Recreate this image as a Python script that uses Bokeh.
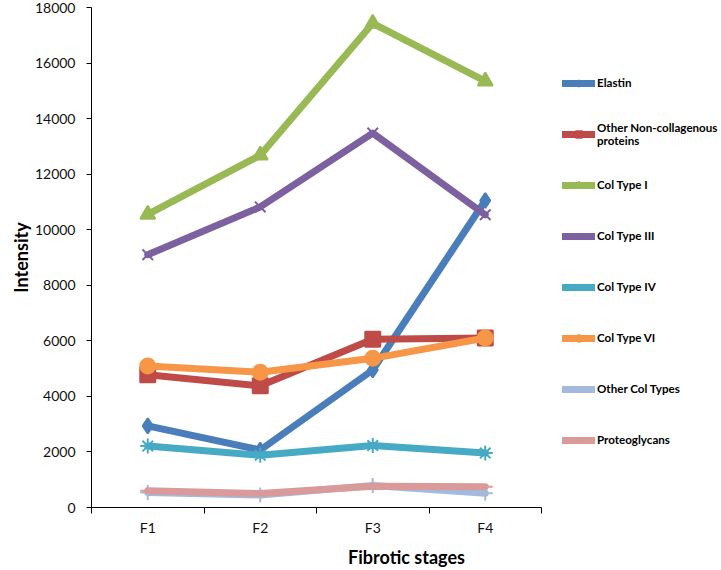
from bokeh.plotting import figure
from bokeh.models import Legend, LegendItem, FixedTicker, Range1d
from bokeh.embed import file_html
from bokeh.resources import INLINE

stages = ["F1", "F2", "F3", "F4"]
y_ticks = [0, 2000, 4000, 6000, 8000, 10000, 12000, 14000, 16000, 18000]

elastin = [2940, 2070, 4950, 11050]
other_noncollagenous = [4780, 4380, 6060, 6100]
col_type_1 = [10550, 12680, 17430, 15350]
col_type_3 = [9100, 10820, 13480, 10540]
col_type_4 = [2210, 1880, 2230, 1960]
col_type_6 = [5090, 4870, 5370, 6100]
other_col_types = [540, 450, 790, 510]
proteoglycans = [600, 500, 765, 745]

series_names = ["Elastin", "Other Non-collagenous\nproteins", "Col Type I", "Col Type III",
                "Col Type IV", "Col Type VI", "Other Col Types", "Proteoglycans"]
series_values = [elastin, other_noncollagenous, col_type_1, col_type_3,
                 col_type_4, col_type_6, other_col_types, proteoglycans]
colors = ["#4A7EBB", "#BE4B48", "#98B954", "#7D60A0", "#46AAC5", "#F79646", "#A3B9DD", "#D99A99"]
markers = ["diamond", "square", "triangle", "x", "asterisk", "circle", "cross", "dash"]

xs = [i + 1 for i in range(len(stages))]

# frame extends under the legend; the x axis is bounded to the category span
p = figure(width=721, height=570, output_backend="svg", toolbar_location=None,
           x_range=Range1d(0.5, 6.1), y_range=Range1d(0, 18000),
           min_border_left=91, min_border_right=0, min_border_top=7, min_border_bottom=61)
p.outline_line_color = None
p.xgrid.visible = False
p.ygrid.visible = False
p.background_fill_color = "white"
p.border_fill_color = "white"

# axes
p.yaxis.ticker = FixedTicker(ticks=y_ticks)
p.yaxis.minor_tick_line_color = None
p.yaxis.major_tick_out = 5
p.yaxis.major_tick_in = 0
p.yaxis.major_label_standoff = 11
p.yaxis.axis_label = "Intensity"
p.yaxis.axis_label_standoff = 0

p.xaxis.bounds = (0.5, len(stages) + 0.5)
p.xaxis.ticker = FixedTicker(ticks=xs, minor_ticks=[x - 0.5 for x in xs] + [xs[-1] + 0.5])
p.xaxis.major_label_overrides = {x: s for x, s in zip(xs, stages)}
p.xaxis.major_tick_out = 0
p.xaxis.major_tick_in = 0
p.xaxis.minor_tick_out = 6
p.xaxis.minor_tick_in = 0
p.xaxis.minor_tick_line_color = "black"
p.xaxis.major_label_standoff = 5
p.xaxis.axis_label = "Fibrotic stages"
p.xaxis.axis_label_standoff = 7

for ax in (p.xaxis, p.yaxis):
    ax.axis_line_color = "black"
    ax.axis_line_width = 1
    ax.major_tick_line_color = "black"
    ax.major_label_text_font = "Lato"
    ax.major_label_text_font_size = "14px"
    ax.major_label_text_color = "#111111"
    ax.axis_label_text_font = "Lato"
    ax.axis_label_text_font_size = "18px"
    ax.axis_label_text_font_style = "bold"
    ax.axis_label_text_color = "black"

items = []
for name, vals, c, m in zip(series_names, series_values, colors, markers):
    r1 = p.line(xs, vals, line_color=c, line_width=7, line_join="round", line_cap="round")
    r2 = p.scatter(xs, vals, marker=m, size=15, fill_color=c, line_color=c, line_width=2)
    items.append(LegendItem(label=name, renderers=[r1, r2]))

legend = Legend(items=items, location=(471, 53))
legend.label_text_font = "Lato"
legend.label_text_font_style = "bold"
legend.label_text_font_size = "11.6px"
legend.label_text_line_height = 1.25
legend.label_text_color = "black"
legend.glyph_width = 33
legend.glyph_height = 16
legend.label_height = 29
legend.label_standoff = 2
legend.spacing = 22
legend.padding = 0
legend.margin = 0
legend.border_line_color = None
legend.background_fill_alpha = 0
p.add_layout(legend, "center")

open("out.html", "w").write(file_html(p, INLINE))
